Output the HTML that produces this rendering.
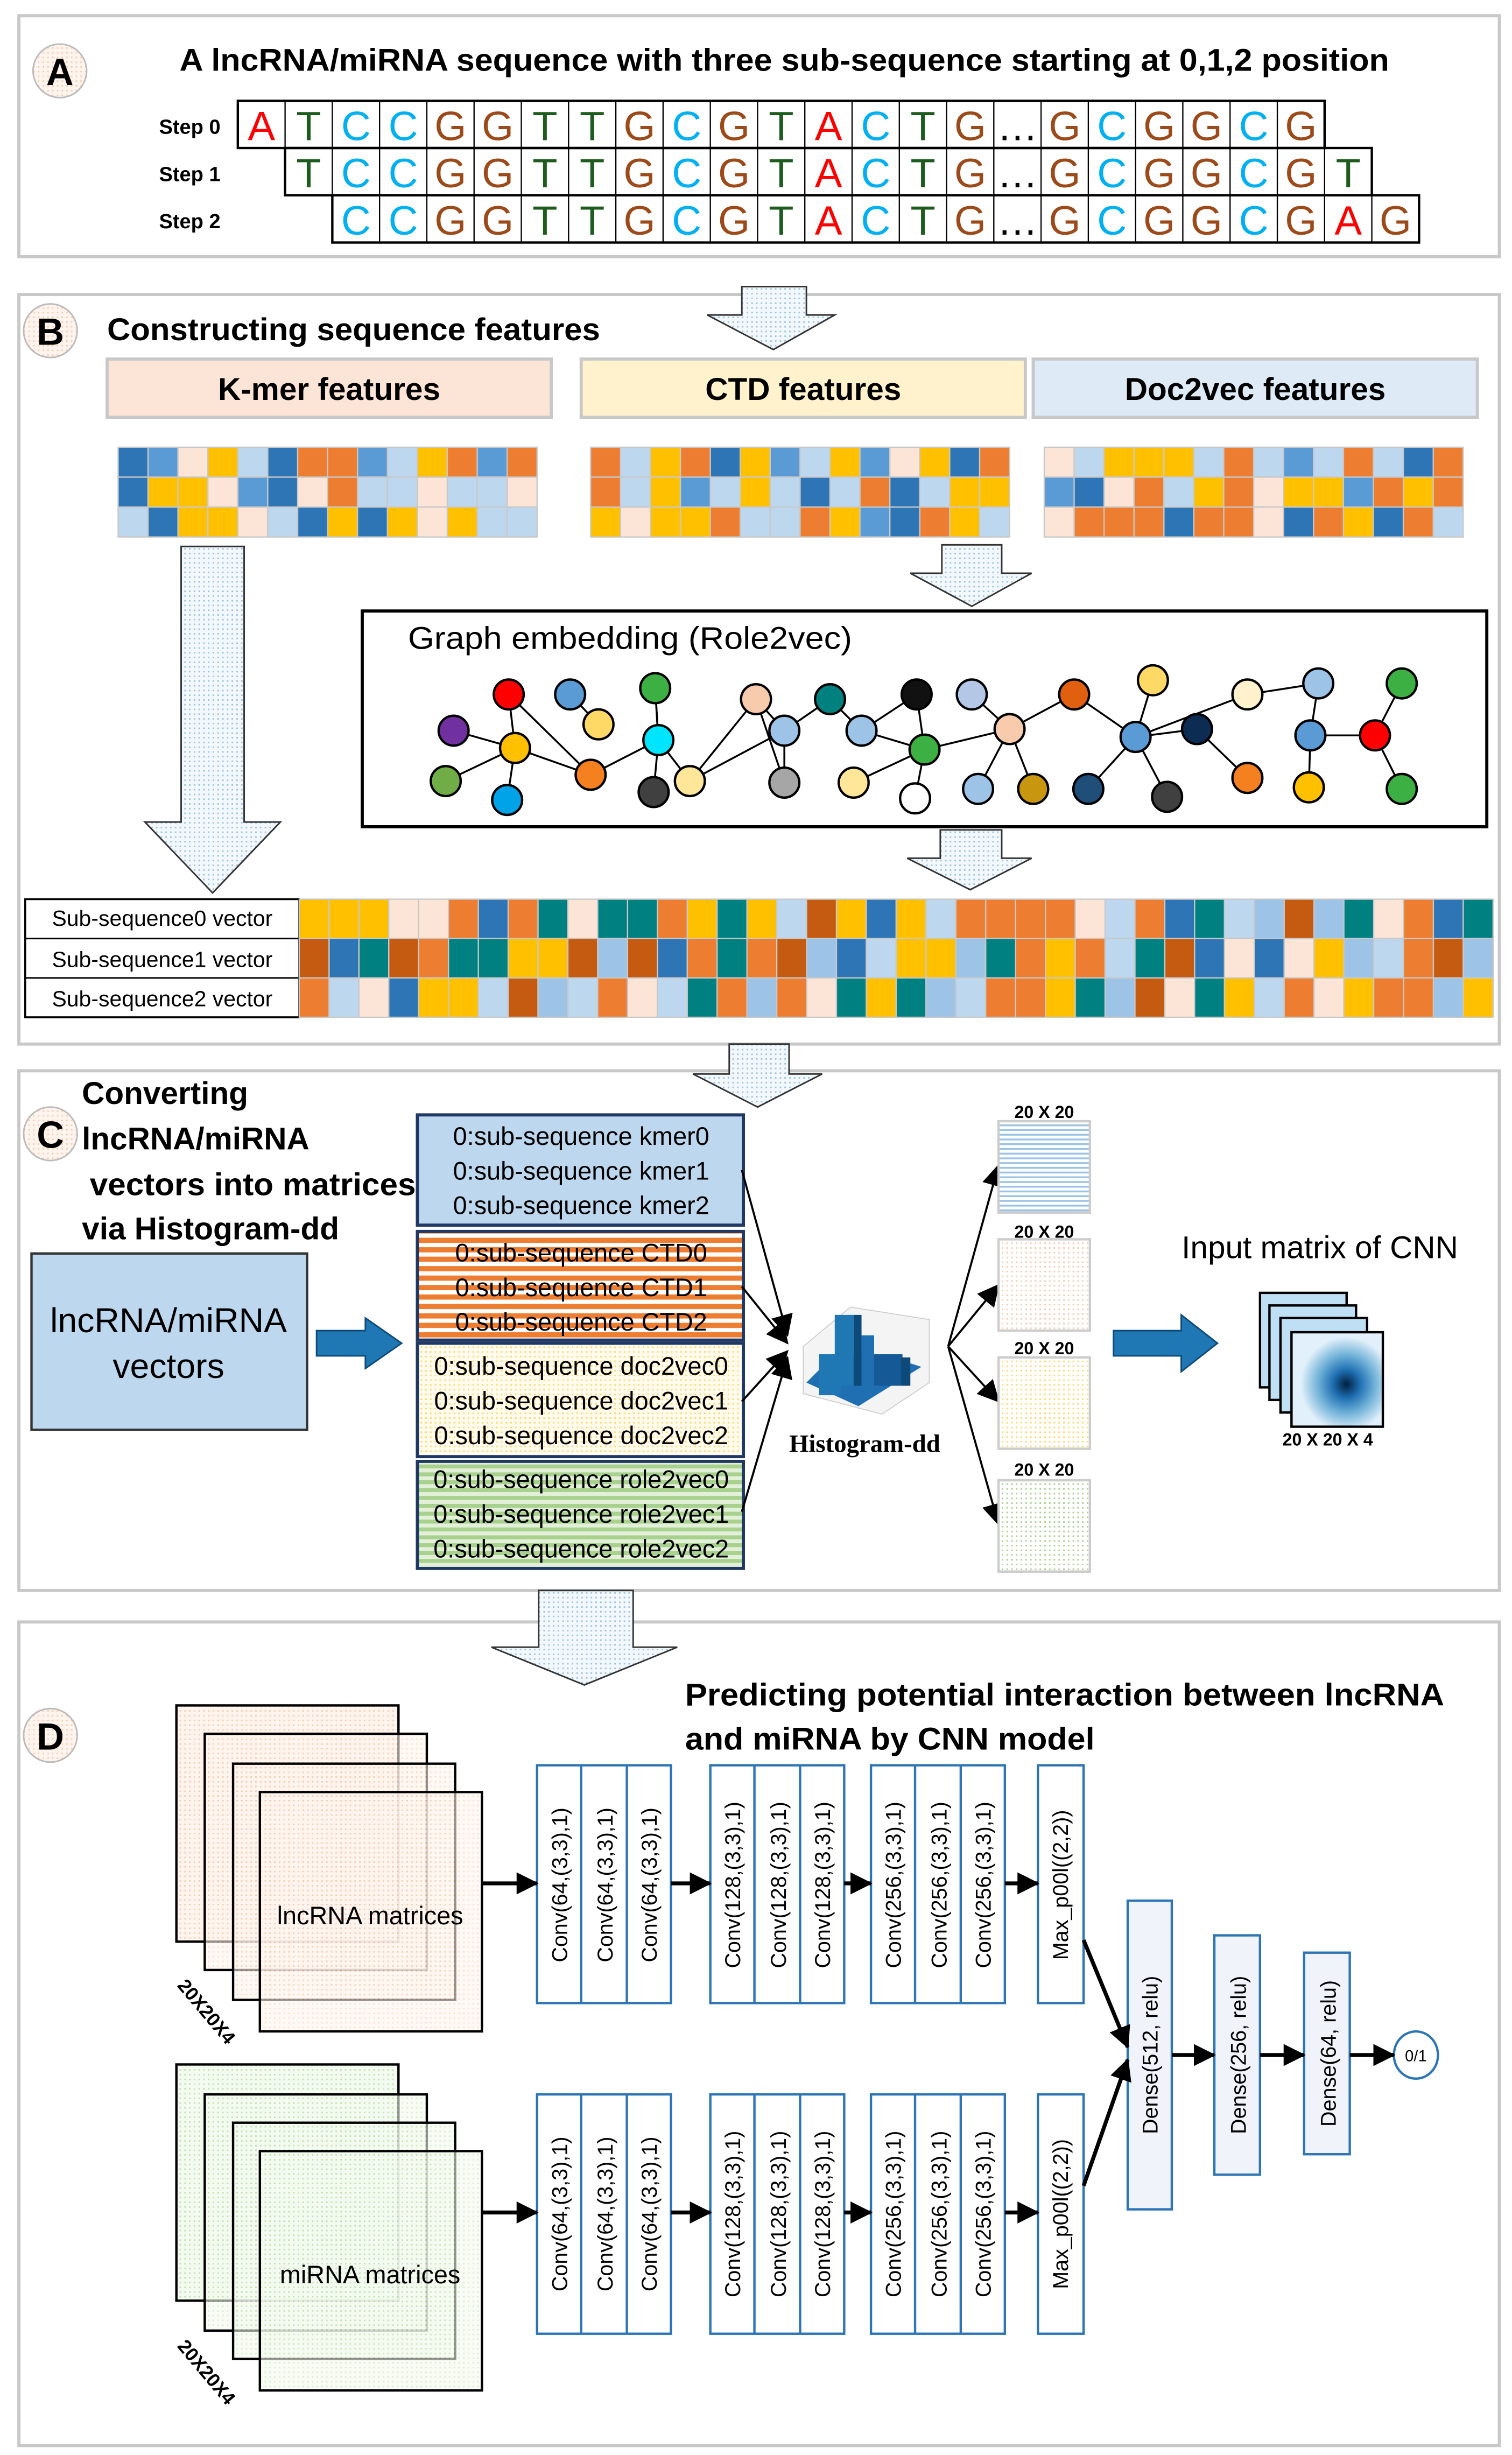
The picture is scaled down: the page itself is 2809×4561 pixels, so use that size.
<!DOCTYPE html>
<html><head><meta charset="utf-8"><style>
html,body{margin:0;padding:0;background:#fff}
svg{display:block}
text{font-family:"Liberation Sans",sans-serif}
.A{fill:#ff0000}.T{fill:#1e5c1e}.C{fill:#00b0f0}.G{fill:#9c4a1a}
.seq text{font-size:26px;text-anchor:middle}
.cv{font-family:"DejaVu Sans",sans-serif;font-size:13.5px;text-anchor:middle}
.st{font-size:15.5px;text-anchor:middle}
</style></head><body>
<svg xmlns="http://www.w3.org/2000/svg" width="2809" height="4561" viewBox="0 0 960 1559" preserveAspectRatio="none">
<defs>
<pattern id="dots" width="3" height="3" patternUnits="userSpaceOnUse"><rect width="3" height="3" fill="#f3f8fc"/><rect width="1" height="1" fill="#9dc3e6"/></pattern>
<pattern id="ostr" width="4" height="6" patternUnits="userSpaceOnUse"><rect width="4" height="6" fill="#fff"/><rect width="4" height="3.3" fill="#ed7d31"/></pattern>
<pattern id="gstr" width="4" height="5" patternUnits="userSpaceOnUse"><rect width="4" height="5" fill="#e2f0d9"/><rect width="4" height="2.5" fill="#a9d18e"/></pattern>
<pattern id="ydot" width="3" height="3" patternUnits="userSpaceOnUse"><rect width="3" height="3" fill="#fffbee"/><rect width="1" height="1" fill="#ffd966"/></pattern>
<pattern id="bl" width="4" height="3" patternUnits="userSpaceOnUse"><rect width="4" height="3" fill="#fff"/><rect width="4" height="1.2" fill="#9dc3e6"/></pattern>
<pattern id="pl" width="3" height="3" patternUnits="userSpaceOnUse"><rect width="3" height="3" fill="#fff"/><rect width="1" height="1" fill="#f8cbad"/></pattern>
<pattern id="yl" width="3" height="3" patternUnits="userSpaceOnUse"><rect width="3" height="3" fill="#fff"/><rect width="1" height="1" fill="#ffd966"/></pattern>
<pattern id="gl" width="3" height="3" patternUnits="userSpaceOnUse"><rect width="3" height="3" fill="#fff"/><rect width="1" height="1" fill="#a9d18e"/></pattern>
<pattern id="pk" width="3" height="3" patternUnits="userSpaceOnUse"><rect width="3" height="3" fill="#fff5ee"/><rect width="1" height="1" fill="#f8cbad"/></pattern>
<pattern id="gk" width="3" height="3" patternUnits="userSpaceOnUse"><rect width="3" height="3" fill="#f3faef"/><rect width="1" height="1" fill="#c5e0b4"/></pattern>
<radialGradient id="blob" cx="0.6" cy="0.55" r="0.5"><stop offset="0" stop-color="#002040"/><stop offset="0.3" stop-color="#1f6fb2"/><stop offset="0.6" stop-color="#6baed6"/><stop offset="1" stop-color="#e1f0fa"/></radialGradient>
<marker id="ah2" markerWidth="14" markerHeight="14" refX="13" refY="7" orient="auto" markerUnits="userSpaceOnUse"><path d="M0,0 L14,7 L0,14 Z" fill="#000"/></marker>
</defs>

<rect x="12" y="10" width="940" height="153" fill="#fff" stroke="#c8c8c8" stroke-width="2"/>
<circle cx="38" cy="45" r="17" fill="url(#pk)" stroke="#bbb"/>
<text x="38" y="54" font-size="24" font-weight="bold" text-anchor="middle">A</text>
<text x="498" y="45" font-size="20" font-weight="bold" text-anchor="middle" textLength="768" lengthAdjust="spacingAndGlyphs">A lncRNA/miRNA sequence with three sub-sequence starting at 0,1,2 position</text>
<text x="101" y="85" font-size="13" font-weight="bold">Step 0</text>
<text x="101" y="115" font-size="13" font-weight="bold">Step 1</text>
<text x="101" y="145" font-size="13" font-weight="bold">Step 2</text>
<g fill="none" stroke="#000">
<rect x="151" y="64" width="690" height="30" stroke-width="1.5"/>
<rect x="181" y="94" width="690" height="30" stroke-width="1.5"/>
<rect x="211" y="124" width="690" height="30" stroke-width="1.5"/>
<path d="M181,64v30M211,64v30M241,64v30M271,64v30M301,64v30M331,64v30M361,64v30M391,64v30M421,64v30M451,64v30M481,64v30M511,64v30M541,64v30M571,64v30M601,64v30M631,64v30M661,64v30M691,64v30M721,64v30M751,64v30M781,64v30M811,64v30" stroke-width="0.8"/>
<path d="M211,94v30M241,94v30M271,94v30M301,94v30M331,94v30M361,94v30M391,94v30M421,94v30M451,94v30M481,94v30M511,94v30M541,94v30M571,94v30M601,94v30M631,94v30M661,94v30M691,94v30M721,94v30M751,94v30M781,94v30M811,94v30M841,94v30" stroke-width="0.8"/>
<path d="M241,124v30M271,124v30M301,124v30M331,124v30M361,124v30M391,124v30M421,124v30M451,124v30M481,124v30M511,124v30M541,124v30M571,124v30M601,124v30M631,124v30M661,124v30M691,124v30M721,124v30M751,124v30M781,124v30M811,124v30M841,124v30M871,124v30" stroke-width="0.8"/>
</g>
<g class="seq">
<text x="166" y="89" class="A">A</text><text x="196" y="89" class="T">T</text><text x="226" y="89" class="C">C</text><text x="256" y="89" class="C">C</text><text x="286" y="89" class="G">G</text><text x="316" y="89" class="G">G</text><text x="346" y="89" class="T">T</text><text x="376" y="89" class="T">T</text><text x="406" y="89" class="G">G</text><text x="436" y="89" class="C">C</text><text x="466" y="89" class="G">G</text><text x="496" y="89" class="T">T</text><text x="526" y="89" class="A">A</text><text x="556" y="89" class="C">C</text><text x="586" y="89" class="T">T</text><text x="616" y="89" class="G">G</text><text x="646" y="89" font-size="12">…</text><text x="676" y="89" class="G">G</text><text x="706" y="89" class="C">C</text><text x="736" y="89" class="G">G</text><text x="766" y="89" class="G">G</text><text x="796" y="89" class="C">C</text><text x="826" y="89" class="G">G</text>
<text x="196" y="119" class="T">T</text><text x="226" y="119" class="C">C</text><text x="256" y="119" class="C">C</text><text x="286" y="119" class="G">G</text><text x="316" y="119" class="G">G</text><text x="346" y="119" class="T">T</text><text x="376" y="119" class="T">T</text><text x="406" y="119" class="G">G</text><text x="436" y="119" class="C">C</text><text x="466" y="119" class="G">G</text><text x="496" y="119" class="T">T</text><text x="526" y="119" class="A">A</text><text x="556" y="119" class="C">C</text><text x="586" y="119" class="T">T</text><text x="616" y="119" class="G">G</text><text x="646" y="119" font-size="12">…</text><text x="676" y="119" class="G">G</text><text x="706" y="119" class="C">C</text><text x="736" y="119" class="G">G</text><text x="766" y="119" class="G">G</text><text x="796" y="119" class="C">C</text><text x="826" y="119" class="G">G</text><text x="856" y="119" class="T">T</text>
<text x="226" y="149" class="C">C</text><text x="256" y="149" class="C">C</text><text x="286" y="149" class="G">G</text><text x="316" y="149" class="G">G</text><text x="346" y="149" class="T">T</text><text x="376" y="149" class="T">T</text><text x="406" y="149" class="G">G</text><text x="436" y="149" class="C">C</text><text x="466" y="149" class="G">G</text><text x="496" y="149" class="T">T</text><text x="526" y="149" class="A">A</text><text x="556" y="149" class="C">C</text><text x="586" y="149" class="T">T</text><text x="616" y="149" class="G">G</text><text x="646" y="149" font-size="12">…</text><text x="676" y="149" class="G">G</text><text x="706" y="149" class="C">C</text><text x="736" y="149" class="G">G</text><text x="766" y="149" class="G">G</text><text x="796" y="149" class="C">C</text><text x="826" y="149" class="G">G</text><text x="856" y="149" class="A">A</text><text x="886" y="149" class="G">G</text>
</g>

<rect x="12" y="187" width="940" height="476" fill="#fff" stroke="#c8c8c8" stroke-width="2"/>
<path d="M471,182 H512 V200 H530 L491,222 L449,200 H471 Z" fill="url(#dots)" stroke="#333" stroke-width="1"/>
<circle cx="32" cy="210" r="17" fill="url(#pk)" stroke="#bbb"/>
<text x="32" y="219" font-size="24" font-weight="bold" text-anchor="middle">B</text>
<text x="68" y="216" font-size="20" font-weight="bold" textLength="313" lengthAdjust="spacingAndGlyphs">Constructing sequence features</text>
<rect x="68" y="228" width="282" height="37" fill="#fce4d6" stroke="#c8c8c8" stroke-width="2"/>
<rect x="369" y="228" width="282" height="37" fill="#fff2cc" stroke="#c8c8c8" stroke-width="2"/>
<rect x="656" y="228" width="282" height="37" fill="#deebf7" stroke="#c8c8c8" stroke-width="2"/>
<text x="209" y="254" font-size="20" font-weight="bold" text-anchor="middle">K-mer features</text>
<text x="510" y="254" font-size="20" font-weight="bold" text-anchor="middle">CTD features</text>
<text x="797" y="254" font-size="20" font-weight="bold" text-anchor="middle">Doc2vec features</text>
<g id="hm"></g>
<path d="M115,347 H155 V522 H178 L135,567 L92,522 H115 Z" fill="url(#dots)" stroke="#333"/>
<path d="M598,346 H636 V364 H655 L617,385 L578,364 H598 Z" fill="url(#dots)" stroke="#333"/>
<rect x="230" y="388" width="714" height="137" fill="#fff" stroke="#000" stroke-width="2"/>
<text x="259" y="412" font-size="20" textLength="282" lengthAdjust="spacingAndGlyphs">Graph embedding (Role2vec)</text>
<g id="graph" stroke="#000" stroke-width="1.2"></g>
<path d="M597,527 H636 V545 H655 L616,565 L576,545 H597 Z" fill="url(#dots)" stroke="#333"/>
<rect x="16" y="571" width="174" height="75" fill="#fff" stroke="#000" stroke-width="1.2"/>
<path d="M16,596 H190 M16,621 H190" stroke="#000"/>
<text x="103" y="588" font-size="14" text-anchor="middle">Sub-sequence0  vector</text>
<text x="103" y="614" font-size="14" text-anchor="middle">Sub-sequence1  vector</text>
<text x="103" y="639" font-size="14" text-anchor="middle">Sub-sequence2  vector</text>
<g id="bigg"></g>

<rect x="12" y="680" width="940" height="330" fill="#fff" stroke="#c8c8c8" stroke-width="2"/>
<path d="M463,663 H501 V682 H522 L481,703 L440,682 H463 Z" fill="url(#dots)" stroke="#333"/>
<circle cx="32" cy="720" r="17" fill="url(#pk)" stroke="#bbb"/>
<text x="32" y="729" font-size="24" font-weight="bold" text-anchor="middle">C</text>
<text x="52" y="701" font-size="20" font-weight="bold">Converting</text>
<text x="52" y="730" font-size="20" font-weight="bold">lncRNA/miRNA</text>
<text x="57" y="759" font-size="20" font-weight="bold" textLength="207" lengthAdjust="spacingAndGlyphs">vectors into matrices</text>
<text x="52" y="787" font-size="20" font-weight="bold">via Histogram-dd</text>
<rect x="20" y="796" width="175" height="112" fill="#bdd7ee" stroke="#333" stroke-width="1.5"/>
<text x="107" y="846" font-size="22" text-anchor="middle">lncRNA/miRNA</text>
<text x="107" y="875" font-size="22" text-anchor="middle">vectors</text>
<path d="M201,845 H232 V837 L255,853 L232,869 V861 H201 Z" fill="#1f77b4" stroke="#0d4a7a"/>
<rect x="265" y="708" width="207" height="70" fill="#bdd7ee" stroke="#1f3864" stroke-width="2"/>
<rect x="265" y="782" width="207" height="69" fill="url(#ostr)" stroke="#1f3864" stroke-width="2"/>
<rect x="265" y="853" width="207" height="72" fill="url(#ydot)" stroke="#1f3864" stroke-width="2"/>
<rect x="265" y="928" width="207" height="68" fill="url(#gstr)" stroke="#1f3864" stroke-width="2"/>
<g font-size="16" text-anchor="middle">
<text x="369" y="727">0:sub-sequence kmer0</text>
<text x="369" y="749">0:sub-sequence kmer1</text>
<text x="369" y="771">0:sub-sequence kmer2</text>
<text x="369" y="801">0:sub-sequence CTD0</text>
<text x="369" y="823">0:sub-sequence CTD1</text>
<text x="369" y="845">0:sub-sequence CTD2</text>
<text x="369" y="873">0:sub-sequence doc2vec0</text>
<text x="369" y="895">0:sub-sequence doc2vec1</text>
<text x="369" y="917">0:sub-sequence doc2vec2</text>
<text x="369" y="945">0:sub-sequence role2vec0</text>
<text x="369" y="967">0:sub-sequence role2vec1</text>
<text x="369" y="989">0:sub-sequence role2vec2</text>
</g>
<g stroke="#000" stroke-width="1.3" fill="none" marker-end="url(#ah2)">
<path d="M471,743 L500,848"/><path d="M471,817 L500,853"/><path d="M471,890 L500,858"/><path d="M471,960 L500,862"/>
<path d="M602,855 L634,740"/><path d="M602,855 L634,816"/><path d="M602,855 L634,890"/><path d="M602,855 L634,968"/>
</g>
<g>
<path d="M510,855 L540,830 L590,838 L590,878 L560,898 L510,885 Z" fill="#f4f4f4" stroke="#ccc" stroke-width="0.6"/>
<path d="M512,878 L545,893 L585,868 L560,860 L530,860 Z" fill="#1f6fb2"/>
<rect x="530" y="835" width="12" height="45" fill="#1f77b4"/><rect x="542" y="835" width="5" height="45" fill="#0d4a7a"/>
<rect x="547" y="848" width="8" height="35" fill="#1f6fb2"/><rect x="520" y="860" width="14" height="26" fill="#1f77b4"/>
<rect x="555" y="860" width="18" height="20" fill="#155a96"/><rect x="572" y="862" width="6" height="18" fill="#0d4a7a"/>
</g>
<text x="549" y="922" font-size="16" font-weight="bold" style="font-family:'Liberation Serif',serif" text-anchor="middle">Histogram-dd</text>
<g font-size="11" font-weight="bold" text-anchor="middle">
<text x="663" y="710">20 X 20</text><text x="663" y="786">20 X 20</text><text x="663" y="860">20 X 20</text><text x="663" y="937">20 X 20</text>
</g>
<rect x="634" y="712" width="58" height="58" fill="url(#bl)" stroke="#ccc" stroke-width="1.5"/>
<rect x="634" y="787" width="58" height="58" fill="url(#pl)" stroke="#ccc" stroke-width="1.5"/>
<rect x="634" y="862" width="58" height="58" fill="url(#yl)" stroke="#ccc" stroke-width="1.5"/>
<rect x="634" y="940" width="58" height="58" fill="url(#gl)" stroke="#ccc" stroke-width="1.5"/>
<path d="M707,845 H750 V835 L773,853 L750,871 V861 H707 Z" fill="#1f77b4" stroke="#0d4a7a"/>
<text x="838" y="799" font-size="20" text-anchor="middle">Input matrix of CNN</text>
<g stroke="#000" stroke-width="1.5">
<rect x="800" y="821" width="55" height="60" fill="#bfe0f4"/>
<rect x="806" y="829" width="55" height="60" fill="#bfe0f4"/>
<rect x="813" y="837" width="55" height="60" fill="#bfe0f4"/>
<rect x="820" y="846" width="58" height="60" fill="url(#blob)"/>
</g>
<text x="843" y="918" font-size="11" font-weight="bold" text-anchor="middle">20 X 20 X 4</text>

<rect x="12" y="1030" width="940" height="523" fill="#fff" stroke="#c8c8c8" stroke-width="2"/>
<path d="M342,1010 H402 V1046 H430 L371,1070 L312,1046 H342 Z" fill="url(#dots)" stroke="#333"/>
<circle cx="32" cy="1102" r="17" fill="url(#pk)" stroke="#bbb"/>
<text x="32" y="1111" font-size="24" font-weight="bold" text-anchor="middle">D</text>
<text x="435" y="1083" font-size="20" font-weight="bold" textLength="482" lengthAdjust="spacingAndGlyphs">Predicting potential interaction between lncRNA</text>
<text x="435" y="1111" font-size="20" font-weight="bold" textLength="260" lengthAdjust="spacingAndGlyphs">and miRNA by CNN model</text>
<g stroke="#000" stroke-width="1.5">
<rect x="112" y="1083" width="141" height="150" fill="url(#pk)"/>
<rect x="130" y="1101" width="141" height="150" fill="url(#pk)" fill-opacity="0.6"/>
<rect x="148" y="1120" width="141" height="150" fill="url(#pk)" fill-opacity="0.6"/>
<rect x="165" y="1138" width="141" height="152" fill="url(#pk)" fill-opacity="0.6"/>
<rect x="112" y="1311" width="141" height="150" fill="url(#gk)"/>
<rect x="130" y="1330" width="141" height="150" fill="url(#gk)" fill-opacity="0.6"/>
<rect x="148" y="1348" width="141" height="150" fill="url(#gk)" fill-opacity="0.6"/>
<rect x="165" y="1366" width="141" height="152" fill="url(#gk)" fill-opacity="0.6"/>
</g>
<text x="235" y="1222" font-size="16" text-anchor="middle">lncRNA matrices</text>
<text x="235" y="1450" font-size="16" text-anchor="middle">miRNA matrices</text>
<text x="128" y="1280" font-size="12" font-weight="bold" text-anchor="middle" transform="rotate(50 128 1280)">20X20X4</text>
<text x="128" y="1509" font-size="12" font-weight="bold" text-anchor="middle" transform="rotate(50 128 1509)">20X20X4</text>
<g fill="#fff" stroke="#2e75b6" stroke-width="1.5">
<rect x="341" y="1121" width="85" height="151"/><rect x="451" y="1121" width="85" height="151"/><rect x="553" y="1121" width="85" height="151"/><rect x="659" y="1121" width="29" height="151"/>
<rect x="341" y="1330" width="85" height="152"/><rect x="451" y="1330" width="85" height="152"/><rect x="553" y="1330" width="85" height="152"/><rect x="659" y="1330" width="29" height="152"/>
<path d="M369,1121v151M398,1121v151M479,1121v151M508,1121v151M581,1121v151M610,1121v151M369,1330v152M398,1330v152M479,1330v152M508,1330v152M581,1330v152M610,1330v152"/>
<rect x="716" y="1207" width="28" height="196" fill="#f0f3fa"/><rect x="771" y="1229" width="29" height="152" fill="#f0f3fa"/><rect x="828" y="1240" width="29" height="128" fill="#f0f3fa"/>
<ellipse cx="899" cy="1305" rx="14" ry="15"/>
</g>
<text x="899" y="1309" font-size="10" text-anchor="middle">0/1</text>
<g class="cv">
<text transform="translate(360,1197) rotate(-90)">Conv(64,(3,3),1)</text>
<text transform="translate(389,1197) rotate(-90)">Conv(64,(3,3),1)</text>
<text transform="translate(417,1197) rotate(-90)">Conv(64,(3,3),1)</text>
<text transform="translate(470,1197) rotate(-90)">Conv(128,(3,3),1)</text>
<text transform="translate(499,1197) rotate(-90)">Conv(128,(3,3),1)</text>
<text transform="translate(527,1197) rotate(-90)">Conv(128,(3,3),1)</text>
<text transform="translate(572,1197) rotate(-90)">Conv(256,(3,3),1)</text>
<text transform="translate(601,1197) rotate(-90)">Conv(256,(3,3),1)</text>
<text transform="translate(629,1197) rotate(-90)">Conv(256,(3,3),1)</text>
<text transform="translate(678,1197) rotate(-90)">Max_p00l((2,2))</text>
<text transform="translate(360,1406) rotate(-90)">Conv(64,(3,3),1)</text>
<text transform="translate(389,1406) rotate(-90)">Conv(64,(3,3),1)</text>
<text transform="translate(417,1406) rotate(-90)">Conv(64,(3,3),1)</text>
<text transform="translate(470,1406) rotate(-90)">Conv(128,(3,3),1)</text>
<text transform="translate(499,1406) rotate(-90)">Conv(128,(3,3),1)</text>
<text transform="translate(527,1406) rotate(-90)">Conv(128,(3,3),1)</text>
<text transform="translate(572,1406) rotate(-90)">Conv(256,(3,3),1)</text>
<text transform="translate(601,1406) rotate(-90)">Conv(256,(3,3),1)</text>
<text transform="translate(629,1406) rotate(-90)">Conv(256,(3,3),1)</text>
<text transform="translate(678,1406) rotate(-90)">Max_p00l((2,2))</text>
<text transform="translate(735,1305) rotate(-90)">Dense(512, relu)</text>
<text transform="translate(791,1305) rotate(-90)">Dense(256, relu)</text>
<text transform="translate(848,1304) rotate(-90)">Dense(64, relu)</text>
</g>
<g stroke="#000" stroke-width="2.5" marker-end="url(#ah2)">
<path d="M306,1196 H341"/><path d="M426,1196 H451"/><path d="M536,1196 H553"/><path d="M638,1196 H659"/>
<path d="M306,1405 H341"/><path d="M426,1405 H451"/><path d="M536,1405 H553"/><path d="M638,1405 H659"/>
<path d="M688,1232 L716,1300"/><path d="M688,1388 L716,1308"/>
<path d="M744,1305 H771"/><path d="M800,1305 H828"/><path d="M857,1305 H885"/>
</g>
</svg>
<script>
(function(){
var NS="http://www.w3.org/2000/svg";
var s=7;function r(){s=(s*9301+49297)%233280;return s/233280;}
function rect(g,x,y,w,h,f){var e=document.createElementNS(NS,"rect");e.setAttribute("x",x);e.setAttribute("y",y);e.setAttribute("width",w);e.setAttribute("height",h);e.setAttribute("fill",f);e.setAttribute("stroke","#c8c8c8");e.setAttribute("stroke-width","0.8");g.appendChild(e);}
var P=["#ed7d31","#fce4d6","#ffc000","#bdd7ee","#2e75b6","#5b9bd5","#ffc000","#ed7d31","#bdd7ee"];
var hm=document.getElementById("hm");
[75,375,663].forEach(function(x0){for(var row=0;row<3;row++)for(var c=0;c<14;c++){rect(hm,x0+c*19,284+row*19,19,19,P[Math.floor(r()*P.length)]);}});
var Q=["#ed7d31","#fce4d6","#ffc000","#bdd7ee","#008080","#9dc3e6","#2e75b6","#ffc000","#ed7d31","#c55a11"];
var bg=document.getElementById("bigg");
for(var row=0;row<3;row++)for(var c=0;c<40;c++){rect(bg,190+c*18.95,571+row*25,18.95,25,Q[Math.floor(r()*Q.length)]);}
var N=[[288,464,"#7030a0"],[323,441,"#ff0000"],[362,441,"#5b9bd5"],[380,460,"#ffd966"],[416,437,"#3cb043"],[327,475,"#ffc000"],[283,496,"#70ad47"],[322,508,"#00a2e8"],[375,492,"#f4801f"],[418,470,"#00e5ff"],[415,503,"#404040"],[438,496,"#ffe699"],[480,444,"#f8cbad"],[498,464,"#9dc3e6"],[498,497,"#a6a6a6"],[527,444,"#00807f"],[547,464,"#9dc3e6"],[542,497,"#ffe699"],[582,441,"#111"],[587,476,"#3cb043"],[581,507,"#fff"],[617,441,"#b4c7e7"],[641,463,"#f8cbad"],[621,501,"#9dc3e6"],[656,501,"#c8960f"],[682,441,"#e06010"],[691,501,"#1f4e79"],[721,468,"#5b9bd5"],[732,432,"#ffd966"],[741,506,"#404040"],[760,463,"#0d2c54"],[792,494,"#f4801f"],[792,441,"#fff2cc"],[837,434,"#9dc3e6"],[832,467,"#5b9bd5"],[831,500,"#ffc000"],[873,467,"#ff0000"],[890,434,"#3cb043"],[890,501,"#3cb043"]];
var E=[[1,5],[0,5],[5,6],[5,7],[5,8],[8,9],[9,4],[9,10],[2,3],[4,9],[8,1],[11,12],[12,13],[13,15],[15,16],[16,18],[13,14],[11,13],[16,19],[18,19],[19,20],[19,17],[19,22],[22,21],[22,23],[22,24],[22,25],[25,27],[27,26],[27,28],[27,29],[27,30],[30,31],[27,32],[32,33],[33,34],[34,35],[34,36],[36,37],[36,38],[12,14],[9,11]];
var g=document.getElementById("graph");
E.forEach(function(e){var l=document.createElementNS(NS,"line");l.setAttribute("x1",N[e[0]][0]);l.setAttribute("y1",N[e[0]][1]);l.setAttribute("x2",N[e[1]][0]);l.setAttribute("y2",N[e[1]][1]);g.appendChild(l);});
N.forEach(function(n){var c=document.createElementNS(NS,"circle");c.setAttribute("cx",n[0]);c.setAttribute("cy",n[1]);c.setAttribute("r",9.5);c.setAttribute("fill",n[2]);c.setAttribute("stroke","#000");c.setAttribute("stroke-width","1.5");g.appendChild(c);});
})();
</script>
</body></html>
